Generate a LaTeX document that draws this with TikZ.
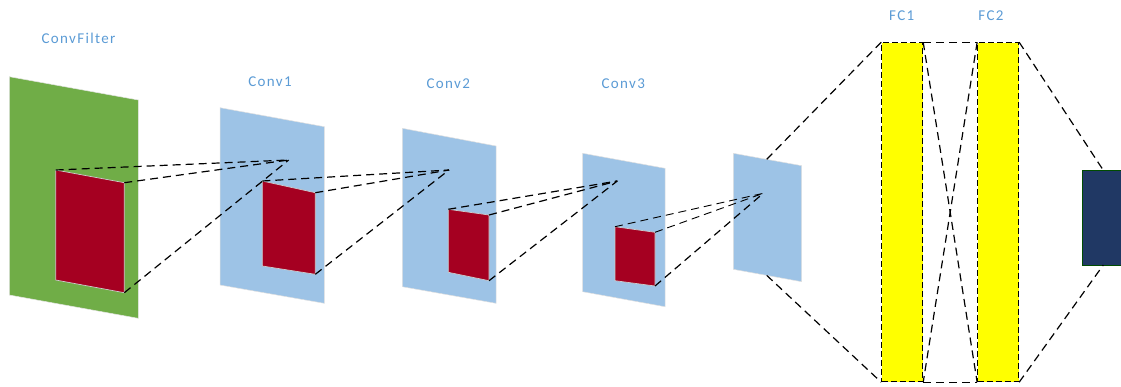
\documentclass[tikz,border=0pt]{standalone}
\usepackage{fontspec}
\usetikzlibrary{calc}
\newfontfamily\labfont{Carlito}[LetterSpace=9]
\definecolor{fgreen}{HTML}{70AD47}
\definecolor{fblue}{HTML}{9DC3E6}
\definecolor{fred}{HTML}{A50021}
\definecolor{fyellow}{HTML}{FFFF00}
\definecolor{fnavy}{HTML}{203864}
\definecolor{labblue}{HTML}{5B9BD5}
\begin{document}
\begin{tikzpicture}[x=1pt,y=-1pt,
  greenplane/.style={fill=fgreen, draw=black!10, line width=0.5pt},
  blueplane/.style={fill=fblue, draw=black!12, line width=0.5pt},
  redpatch/.style={fill=fred, draw=black!20, line width=0.7pt},
  conn/.style={draw=black, dash pattern=on 8pt off 5pt, line width=1.2pt},
  fcbox/.style={fill=fyellow, draw=black, dash pattern=on 6pt off 3pt, line width=1pt, minimum width=41pt, minimum height=339pt, inner sep=0pt},
  outbox/.style={fill=fnavy, draw=black!70!green, line width=0.6pt, minimum width=60pt, minimum height=94.7pt, inner sep=0pt},
  lab/.style={text=labblue, font=\labfont\fontsize{15}{17}\selectfont, inner sep=0pt}]
\useasboundingbox (0,0) rectangle (1121,386);

% ConvFilter plane
\coordinate (g1) at (9.3,76.7);  \coordinate (g2) at (138.3,100);
\coordinate (g3) at (138.3,318.3); \coordinate (g4) at (9.3,295);
\path[greenplane] (g1)--(g2)--(g3)--(g4)--cycle;

% Conv1 plane
\coordinate (a1) at (220,107.7);  \coordinate (a2) at (324.3,126.7);
\coordinate (a3) at (324.3,303.3); \coordinate (a4) at (220,285);
\path[blueplane] (a1)--(a2)--(a3)--(a4)--cycle;

% Conv2 plane
\coordinate (b1) at (402.3,128.3); \coordinate (b2) at (496,146);
\coordinate (b3) at (496,303.3);   \coordinate (b4) at (402.3,286.7);
\path[blueplane] (b1)--(b2)--(b3)--(b4)--cycle;

% Conv3 plane
\coordinate (c1) at (582.7,153.3); \coordinate (c2) at (665,168.3);
\coordinate (c3) at (665,306.7);   \coordinate (c4) at (582.7,291.7);
\path[blueplane] (c1)--(c2)--(c3)--(c4)--cycle;

% last plane
\coordinate (d1) at (733.3,153.3); \coordinate (d2) at (801.7,165.7);
\coordinate (d3) at (801.7,281.7); \coordinate (d4) at (733.3,269.3);
\path[blueplane] (d1)--(d2)--(d3)--(d4)--cycle;
\coordinate (dt) at ($(d1)!0.488!(d2)$);
\coordinate (db) at ($(d4)!0.488!(d3)$);

% red patches
\coordinate (r1a) at (55.7,170);   \coordinate (r1b) at (124.3,182.7);
\coordinate (r1c) at (124.3,292.7); \coordinate (r1d) at (55.7,280);
\path[redpatch] (r1a)--(r1b)--(r1c)--(r1d)--cycle;
\coordinate (r2a) at (262.3,181);   \coordinate (r2b) at (315.3,192.7);
\coordinate (r2c) at (315.3,274.3); \coordinate (r2d) at (262.3,266);
\path[redpatch] (r2a)--(r2b)--(r2c)--(r2d)--cycle;
\coordinate (r3a) at (448.3,209.3); \coordinate (r3b) at (489,215);
\coordinate (r3c) at (489,280.7);   \coordinate (r3d) at (448.3,272.3);
\path[redpatch] (r3a)--(r3b)--(r3c)--(r3d)--cycle;
\coordinate (r4a) at (615,226.7);   \coordinate (r4b) at (655,232.3);
\coordinate (r4c) at (655,286);     \coordinate (r4d) at (615,280.7);
\path[redpatch] (r4a)--(r4b)--(r4c)--(r4d)--cycle;

% apexes
\coordinate (p1) at (288.7,160);
\coordinate (p2) at (449,170);
\coordinate (p3) at (617.3,181);
\coordinate (p4) at (763.3,193.3);

% FC layers and output
\node[fcbox] (fc1) at (902.2,212.2) {};
\node[fcbox] (fc2) at (998.15,212.2) {};
\node[outbox, anchor=north west] (out) at (1082.3,170.3) {};
\coordinate (o1) at (1103.3,170.3);
\coordinate (o2) at (1103.3,265);

% connectors
\draw[conn] (r1a) -- (p1);
\draw[conn] (r1b) -- (p1);
\draw[conn] (r1c) -- (p1);
\draw[conn] (r2a) -- (p2);
\draw[conn] (r2b) -- (p2);
\draw[conn] (r2c) -- (p2);
\draw[conn] (r3a) -- (p3);
\draw[conn] (r3b) -- (p3);
\draw[conn] (r3c) -- (p3);
\draw[conn, line width=0.9pt] (r4a) -- (p4);
\draw[conn, line width=0.9pt] (r4b) -- (p4);
\draw[conn] (r4c) -- (p4);
\draw[conn] (dt) -- (fc1.north west);
\draw[conn] (db) -- (fc1.south west);
\draw[conn] (fc1.north east) -- (fc2.north west);
\draw[conn] (fc1.south east) -- (fc2.south west);
\draw[conn] (fc1.north east) -- (fc2.south west);
\draw[conn] (fc2.north west) -- (fc1.south east);
\draw[conn] (fc2.north east) -- (o1);
\draw[conn] (fc2.south east) -- (o2);

% labels
\node[lab] (lcf) at (78.5,38) {ConvFilter};
\node[lab] (lc1) at (270,82) {Conv1};
\node[lab] (lc2) at (448.3,84) {Conv2};
\node[lab] (lc3) at (623.3,84) {Conv3};
\node[lab] (lfc1) at (901.7,16) {FC1};
\node[lab] (lfc2) at (991,16) {FC2};
\end{tikzpicture}
\end{document}
